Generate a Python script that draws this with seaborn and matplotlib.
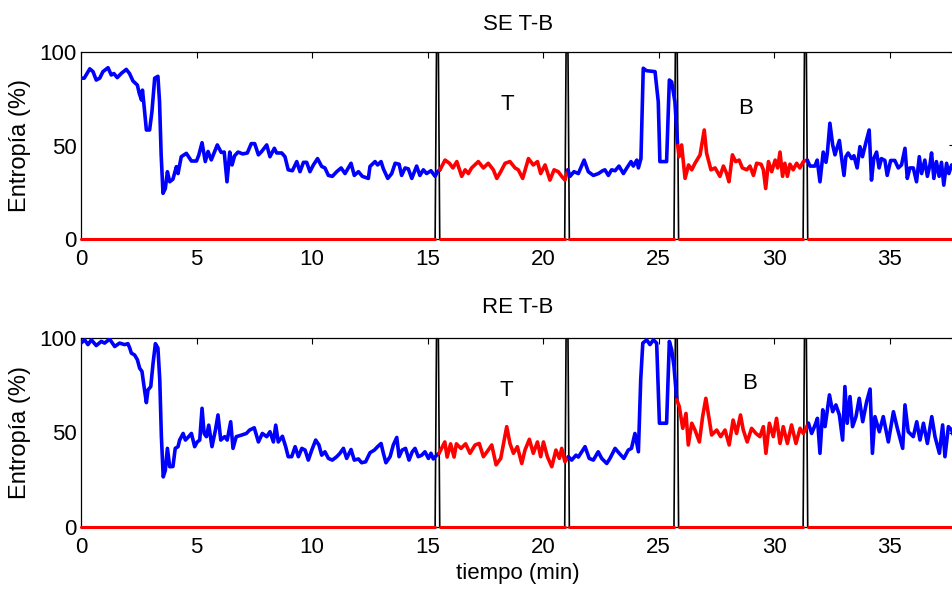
import numpy as np
import pandas as pd
import matplotlib
matplotlib.use("Agg")
import matplotlib.pyplot as plt
import seaborn as sns

# tiempo (min) y entropia (%)
se_t = [0.0, 0.14, 0.38, 0.52, 0.66, 0.81, 0.95, 1.17, 1.31, 1.42, 1.57, 1.74, 1.96, 2.10, 2.25,
        2.44, 2.52, 2.62, 2.66, 2.72, 2.83, 2.97, 3.07, 3.19, 3.33, 3.40, 3.47, 3.55, 3.65, 3.74,
        3.84, 3.98, 4.13, 4.20, 4.34, 4.56, 4.78, 5.00, 5.10, 5.24, 5.38, 5.50, 5.64, 5.90, 6.07,
        6.20, 6.32, 6.44, 6.54, 6.65, 6.80, 7.00, 7.20, 7.37, 7.52, 7.68, 7.82, 8.04, 8.18, 8.37,
        8.47, 8.69, 8.83, 8.97, 9.15, 9.34, 9.48, 9.63, 9.77, 9.91, 10.06, 10.24, 10.42, 10.56,
        10.71, 10.88, 11.07, 11.26, 11.43, 11.69, 11.83, 12.01, 12.18, 12.44, 12.51, 12.73, 12.84,
        12.99, 13.09, 13.28, 13.45, 13.60, 13.77, 13.88, 14.03, 14.17, 14.32, 14.53, 14.67, 14.82,
        14.96, 15.15, 15.33, 15.43,
        15.54, 15.76, 15.95, 16.10, 16.27, 16.48, 16.63, 16.77, 16.91, 17.20, 17.42, 17.63, 17.85,
        18.00, 18.17, 18.36, 18.57, 18.79, 18.93, 19.12, 19.37, 19.58, 19.76, 19.90, 20.09, 20.30,
        20.48, 20.66, 20.81, 20.95,
        21.08, 21.17, 21.34, 21.53, 21.78, 21.96, 22.18, 22.40, 22.58, 22.68, 22.83, 22.97, 23.12,
        23.29, 23.48, 23.63, 23.81, 23.91, 24.06, 24.13, 24.24, 24.34, 24.48, 24.85, 24.99, 25.06,
        25.35, 25.47, 25.57, 25.71,
        25.83, 25.89, 26.00, 26.15, 26.30, 26.44, 26.58, 26.80, 26.98, 27.08, 27.27, 27.45, 27.66,
        27.81, 27.95, 28.05, 28.20, 28.34, 28.49, 28.63, 28.82, 28.96, 29.11, 29.25, 29.44, 29.54,
        29.64, 29.76, 29.90, 30.05, 30.16, 30.26, 30.37, 30.47, 30.58, 30.69, 30.83, 30.98, 31.12,
        31.27,
        31.44, 31.56, 31.77, 31.87, 31.99, 32.13, 32.25, 32.31, 32.42, 32.54, 32.64, 32.71, 32.83,
        32.93, 33.03, 33.11, 33.21, 33.36, 33.46, 33.60, 33.72, 33.83, 33.98, 34.12, 34.22, 34.32,
        34.44, 34.55, 34.65, 34.80, 34.90, 35.05, 35.23, 35.38, 35.52, 35.67, 35.77, 35.88, 36.03,
        36.17, 36.29, 36.39, 36.53, 36.64, 36.75, 36.82, 36.92, 37.03, 37.15, 37.25, 37.35, 37.47,
        37.57, 37.69, 37.85]
se_val = [86, 86, 91, 89.5, 85, 86, 89.5, 91.6, 87.7, 88.5, 86.3, 88.5, 90.7, 88.5, 84.5,
          82.3, 78, 74.3, 79.6, 72.5, 58.3, 58.3, 68, 86, 87, 73.4, 45, 24.4, 27, 36,
          30.6, 32, 38.7, 35, 44, 45.8, 41.7, 41.7, 44.9, 51.5, 41.4, 46.8, 42.3, 50.3, 46.3,
          46.5, 30.6, 46.5, 39.6, 44.5, 46.5, 45.5, 46, 51, 51, 45, 46.8, 50.3, 44, 48.5,
          46, 46, 44, 37, 36.5, 41.4, 36, 41, 41, 36, 39.6, 43, 38.8, 38,
          34, 33.5, 36, 38, 35, 40.5, 34, 36, 33.5, 32.4, 38.8, 41.4, 39.6,
          41.4, 37.5, 32.4, 35, 40.5, 40, 34, 38, 37.5, 32.4, 39, 34, 37,
          35, 36.5, 33.5, 36,
          37, 42.2, 40.5, 38, 41.4, 33.5, 37, 35, 38, 41.4, 38, 40.5, 37,
          32.4, 36, 40.5, 41.4, 38, 37, 32.4, 43, 39.6, 41.4, 35, 39.6, 31.5,
          37, 36, 33.5, 31.5,
          37, 33.5, 36, 35, 42.2, 36, 34, 35, 36.5, 37, 34, 37, 36.5,
          39, 35, 38, 41.4, 39, 42.2, 38, 43, 91.3, 90, 89.5, 73.4, 41.4,
          41.4, 85, 84, 73.4,
          50, 44, 50.3, 32.4, 39.6, 37, 40.5, 45, 58.3, 46, 37, 38, 33.5,
          39, 35, 30.6, 45, 41.4, 42.2, 38, 37, 39, 34, 40.5, 40, 37,
          27, 41.4, 36, 42.2, 38, 46.5, 33.5, 40.5, 33.5, 40, 37, 40.5, 38,
          41.4,
          42.2, 39, 39, 42.2, 30.6, 46.5, 41, 46, 61.9, 50.3, 45, 48, 52.7,
          43, 34, 44, 46, 43, 44.5, 38, 49.4, 44, 51.7, 58.3, 31.5, 43,
          46.5, 38, 43, 42, 34, 42, 42, 38, 39.6, 48.5, 32.4, 38, 38,
          30.6, 44, 35, 42.2, 33.5, 39.6, 46, 32.4, 41.4, 33.5, 41, 28.8, 40.5,
          35, 39.6, 36]

re_t = [0.0, 0.16, 0.30, 0.45, 0.66, 0.88, 1.02, 1.24, 1.46, 1.67, 1.89, 2.03, 2.11, 2.18, 2.32,
        2.44, 2.54, 2.64, 2.68, 2.76, 2.83, 2.90, 3.02, 3.12, 3.22, 3.33, 3.41, 3.48, 3.56, 3.65,
        3.74, 3.84, 3.98, 4.08, 4.20, 4.27, 4.42, 4.52, 4.66, 4.78, 4.92, 5.03, 5.14, 5.24, 5.33,
        5.43, 5.53, 5.67, 5.82, 5.93, 6.05, 6.22, 6.33, 6.48, 6.58, 6.72, 6.94, 7.16, 7.30, 7.50,
        7.68, 7.85, 8.04, 8.18, 8.33, 8.43, 8.54, 8.72, 8.86, 8.97, 9.12, 9.27, 9.41, 9.56, 9.70,
        9.84, 9.99, 10.16, 10.30, 10.42, 10.56, 10.71, 10.88, 11.07, 11.21, 11.36, 11.50, 11.69,
        11.83, 12.01, 12.15, 12.32, 12.51, 12.70, 12.84, 12.99, 13.09, 13.20, 13.38, 13.52, 13.67,
        13.77, 13.90, 14.05, 14.20, 14.34, 14.46, 14.60, 14.75, 14.89, 15.04, 15.15, 15.25, 15.40,
        15.50, 15.75, 15.85, 16.00, 16.15, 16.25, 16.45, 16.65, 16.84, 17.06, 17.24, 17.42, 17.63,
        17.78, 17.97, 18.17, 18.28, 18.43, 18.57, 18.72, 18.89, 19.08, 19.22, 19.41, 19.58, 19.76,
        19.90, 20.02, 20.19, 20.38, 20.56, 20.71, 20.81, 20.95,
        21.10, 21.24, 21.43, 21.53, 21.82, 22.00, 22.18, 22.39, 22.54, 22.76, 22.90, 23.12, 23.30,
        23.50, 23.69, 23.83, 23.98, 24.13, 24.23, 24.32, 24.49, 24.63, 24.78, 24.92, 25.04, 25.35,
        25.47, 25.57, 25.67,
        25.79, 25.90, 26.05, 26.19, 26.29, 26.44, 26.58, 26.77, 26.91, 27.05, 27.20, 27.30, 27.52,
        27.69, 27.88, 28.06, 28.23, 28.38, 28.55, 28.67, 28.84, 29.03, 29.22, 29.39, 29.54, 29.65,
        29.80, 29.97, 30.11, 30.26, 30.40, 30.58, 30.76, 30.95, 31.13, 31.27,
        31.49, 31.63, 31.78, 31.88, 31.99, 32.11, 32.21, 32.40, 32.54, 32.68, 32.83, 32.97, 33.07,
        33.17, 33.29, 33.40, 33.55, 33.69, 33.84, 34.01, 34.16, 34.26, 34.37, 34.56, 34.73, 34.95,
        35.17, 35.34, 35.57, 35.67, 35.81, 36.03, 36.18, 36.32, 36.47, 36.64, 36.83, 36.97, 37.16,
        37.30, 37.40, 37.55, 37.69, 37.85]
re_val = [97.3, 99, 96.5, 99, 96, 98.2, 97.3, 99.4, 95.5, 97.3, 96.5, 97, 94.7, 92, 91,
          88.5, 84, 82.3, 78.7, 71.7, 65.8, 72.5, 74.3, 86.7, 97, 94.7, 77.8, 47.8, 26.5, 30,
          41.6, 31.9, 32, 41.6, 42.5, 46, 49.5, 46, 47.8, 49.5, 42.5, 45, 46, 62.8, 49.5,
          47.8, 53.9, 42.5, 51.3, 59.3, 46, 47.8, 46, 55.7, 41.6, 47.8, 48.6, 49.5, 51.3, 52.5,
          45, 49.5, 47.8, 50.4, 45, 53.9, 45, 48, 42.5, 37.2, 37.2, 42.5, 37.2, 41.6, 40.7,
          35.4, 40.7, 46, 43.4, 38, 39.8, 36.3, 35.4, 37.2, 39, 41.6, 36.3, 41,
          35.4, 36, 34, 34.5, 39.3, 40.7, 42.5, 44.2, 39, 34, 37.2, 43.4, 47.4,
          37.2, 40.7, 41.6, 35.4, 39.8, 41.6, 37.2, 38, 39.8, 36.3, 39, 36, 38,
          39, 45, 37, 44, 37, 44, 41.6, 44, 39, 43.4, 44.2, 37.2, 40.7,
          43.4, 32.9, 36.3, 43.4, 53.1, 44.2, 39, 42.5, 33.6, 40.7, 46.4, 39, 45,
          37.2, 45, 37.2, 31.9, 40.7, 36.3, 41.6, 34.5,
          37.2, 35.4, 38, 37, 42.5, 36.3, 35.4, 39.8, 36.3, 33.6, 36.3, 41.6, 39,
          36.3, 40.7, 41.6, 49.5, 39.8, 78, 97.3, 99, 96.5, 99, 97.3, 54.9, 54.9,
          98.2, 93.8, 85,
          67.3, 63.7, 52.2, 60.1, 43.4, 54.9, 51.3, 45, 58.4, 68.1, 56.6, 48.7, 51.3,
          47.8, 51.3, 43.4, 56.6, 49.5, 59.3, 51.3, 45, 52.2, 49.5, 47.8, 53.1, 39,
          54.9, 47.8, 57.5, 44.2, 53.1, 44.2, 54, 44.2, 52.2, 49.5,
          54.9, 49.5, 54, 57.5, 39, 62, 53.1, 69.9, 61, 64.6, 59.3, 46, 74.3,
          54.9, 69, 53.1, 58.4, 68.1, 55.7, 66.3, 73, 39, 58.4, 50.4, 58.4, 45,
          61, 52.2, 41.6, 64.6, 50.4, 47.8, 55.7, 46, 54.9, 44.2, 58.4, 47.8, 39,
          54, 37.2, 53.1, 51.3, 45]

# marcas de cambio de fase (min)
marcas = [15.43, 21.04, 25.77, 31.36]
tramo_colores = ["blue", "red", "blue", "red", "blue"]

titulos = ["SE T-B", "RE T-B"]
fases = ["T", "B"]
fase_x = [[18.45, 28.75], [18.4, 28.93]]
fase_y = [[72, 70], [72, 76]]


def tabla_tramos(t, v):
    t = np.asarray(t, float)
    v = np.asarray(v, float)
    seg = np.searchsorted(marcas, t)
    filas = []
    for k in range(len(marcas) + 1):
        idx = np.where(seg == k)[0]
        if len(idx) == 0:
            continue
        if idx[-1] + 1 < len(t):
            idx = np.append(idx, idx[-1] + 1)
        filas.append(pd.DataFrame({"t": t[idx], "val": v[idx], "tramo": k}))
    return pd.concat(filas, ignore_index=True)


sns.set_theme(style="white")
plt.rcParams["font.family"] = ["Liberation Sans", "DejaVu Sans"]
plt.rcParams["text.color"] = "black"
plt.rcParams["axes.labelcolor"] = "black"
plt.rcParams["axes.titlecolor"] = "black"

fig = plt.figure(figsize=(9.52, 5.90), dpi=100)
ax1 = fig.add_axes([81 / 952, 1 - 239 / 590, 874 / 952, 187 / 590])
ax2 = fig.add_axes([81 / 952, 1 - 527 / 590, 874 / 952, 189 / 590])

xmax = 874 / 23.1
series = [(se_t, se_val), (re_t, re_val)]
for i, ax in enumerate([ax1, ax2]):
    t, v = series[i]
    # linea base roja en cero, cortada en cada marca
    base_x, base_y = [0.0], [0.0]
    for m in marcas:
        base_x += [m - 0.1, np.nan, m + 0.1]
        base_y += [0.0, np.nan, 0.0]
    base_x.append(xmax + 1)
    base_y.append(0.0)
    ax.plot(base_x, base_y, color="red", lw=2.2, clip_on=False, zorder=3)

    # picos negros de las marcas
    pico_x, pico_y = [], []
    for m in marcas:
        pico_x += [m - 0.1, m, m + 0.1, np.nan]
        pico_y += [0, 170, 0, np.nan]
    ax.plot(pico_x, pico_y, color="black", lw=1.2, zorder=2)

    df = tabla_tramos(t, v)
    sns.lineplot(data=df, x="t", y="val", hue="tramo",
                 palette={k: c for k, c in enumerate(tramo_colores)},
                 estimator=None, sort=False, legend=False, lw=2.6, ax=ax, zorder=4)

    for f, fx, fy in zip(fases, fase_x[i], fase_y[i]):
        ax.text(fx, fy, f, fontsize=16, ha="center", va="center")

    ax.set_xlim(0, xmax)
    ax.set_ylim(0, 100)
    ax.set_xticks([0, 5, 10, 15, 20, 25, 30, 35])
    ax.set_yticks([0, 50, 100])
    ax.tick_params(direction="in", length=4, width=0.8, top=True, right=True,
                   labelsize=16, colors="black")
    ax.tick_params(axis="x", pad=7)
    ax.tick_params(axis="y", pad=3)
    for s in ax.spines.values():
        s.set_color("black")
        s.set_linewidth(0.9)
    ax.set_ylabel("Entropía (%)", fontsize=17)
    ax.yaxis.set_label_coords(-0.057, 0.5)
    ax.set_xlabel("")
    ax.set_title(titulos[i], fontsize=16, pad=16 if i == 0 else 18)

ax2.set_xlabel("tiempo (min)", fontsize=16)
ax2.xaxis.set_label_coords(0.5, -0.19)

fig.savefig("out.png", dpi=100)
